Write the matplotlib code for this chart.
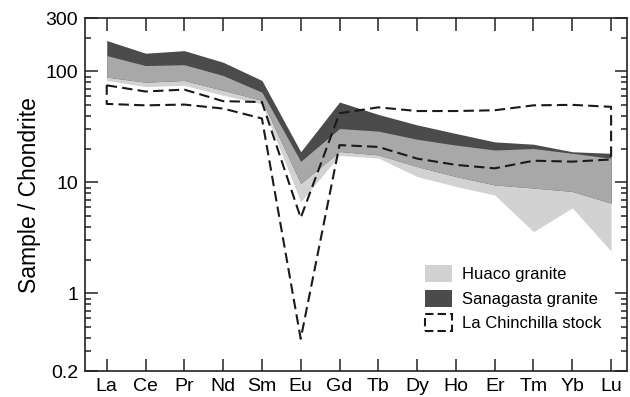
import matplotlib.pyplot as plt
import numpy as np
from matplotlib.patches import Patch
from matplotlib.ticker import FixedLocator, LogLocator, NullFormatter

plt.rcParams['font.family'] = ['Liberation Sans', 'DejaVu Sans']

# REE chondrite-normalised fields
elements = ['La', 'Ce', 'Pr', 'Nd', 'Sm', 'Eu', 'Gd', 'Tb', 'Dy', 'Ho', 'Er', 'Tm', 'Yb', 'Lu']

sanagasta_hi = [190, 146, 154, 121, 83, 18.9, 53, 41, 33, 27.6, 23.2, 22.1, 18.9, 18.3]
sanagasta_lo = [89, 80, 83, 67.6, 55, 9.8, 19, 17.7, 13.9, 11.3, 9.5, 8.9, 8.3, 6.5]
huaco_hi = [139, 113, 115, 92, 65, 15.5, 30.6, 29, 24.5, 21.7, 19.6, 20.2, 18.3, 16.5]
huaco_lo = [83, 73, 75, 61, 51, 6.7, 17.5, 16.6, 11.3, 9.2, 7.7, 3.6, 5.9, 2.4]

chinchilla_hi = [75, 66, 68.6, 54, 53, 4.8, 42, 47.5, 44, 44, 44.7, 49.5, 50, 48]
chinchilla_lo = [51, 49.5, 50.3, 46.3, 37.7, 0.39, 21.7, 20.9, 16.4, 14.4, 13.4, 15.7, 15.4, 16.1]

yticks = [0.2, 1, 10, 100, 300]
ytick_labels = ['0.2', '1', '10', '100', '300']

light = '#d2d2d2'
mid = '#a8a8a8'
dark = '#4b4b4b'

x = np.arange(len(elements))
s_hi, s_lo = np.array(sanagasta_hi), np.array(sanagasta_lo)
h_hi, h_lo = np.array(huaco_hi), np.array(huaco_lo)

fig = plt.figure(figsize=(6.3, 3.97), dpi=100)
ax = fig.add_axes([85 / 630, 1 - 371 / 397, (627 - 85) / 630, (371 - 18.5) / 397])

ax.fill_between(x, h_lo, h_hi, color=light, lw=0)
ax.fill_between(x, s_lo, s_hi, color=dark, lw=0)
# overlap of the two granites
ax.fill_between(x, np.maximum(h_lo, s_lo), np.minimum(h_hi, s_hi), color=mid, lw=0)

# La Chinchilla stock outline (closed)
cx = np.concatenate([x, x[::-1], x[:1]])
cy = np.concatenate([chinchilla_hi, chinchilla_lo[::-1], chinchilla_hi[:1]])
ax.plot(cx, cy, color='#1a1a1a', lw=1.5, dashes=(5, 2.5), zorder=5)

ax.set_yscale('log')
ax.set_ylim(0.2, 300)
ax.set_xlim(-0.56, 13.41)
ax.set_xticks(x)
ax.set_xticklabels(elements)
ax.yaxis.set_major_locator(FixedLocator(yticks))
ax.set_yticklabels(ytick_labels)
ax.yaxis.set_minor_locator(LogLocator(base=10, subs=np.arange(2, 10)))
ax.yaxis.set_minor_formatter(NullFormatter())

ax.tick_params(which='both', direction='in', top=True, right=True, width=1.1, color='#222222')
ax.tick_params(which='major', length=9, labelsize=14, pad=5)
ax.tick_params(which='minor', length=4.5)
for sp in ax.spines.values():
    sp.set_linewidth(1.2)
    sp.set_color('#222222')

ax.set_ylabel('Sample / Chondrite', fontsize=16.5, labelpad=3)

handles = [Patch(facecolor=light, edgecolor='none'),
           Patch(facecolor=dark, edgecolor='none'),
           Patch(facecolor='none', edgecolor='#1a1a1a', linestyle=(0, (4, 2)), lw=1.5)]
labels = ['Huaco granite', 'Sanagasta granite', 'La Chinchilla stock']
fig.legend(handles, labels, loc='upper left', bbox_to_anchor=(425 / 630, 1 - 265 / 397),
           frameon=False, fontsize=12, borderpad=0, borderaxespad=0,
           handlelength=1.6, handleheight=1.2, labelspacing=0.45, handletextpad=0.6)

fig.savefig('out.png', dpi=100)
